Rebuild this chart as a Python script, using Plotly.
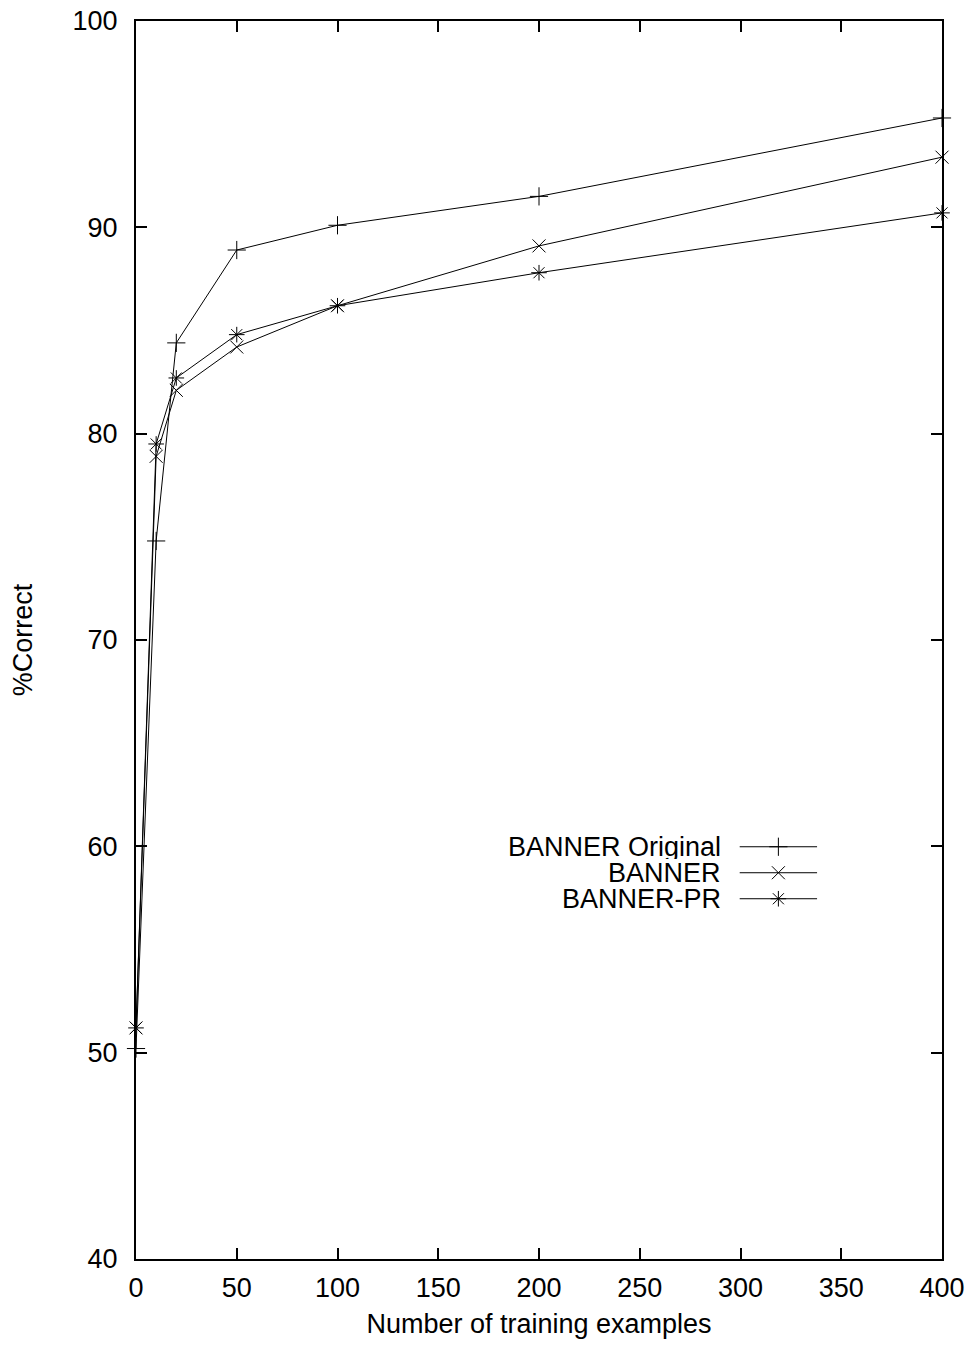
import plotly.graph_objects as go

# Data
train_sizes = [0, 10, 20, 50, 100, 200, 400]
banner_original = [50.2, 74.8, 84.4, 88.9, 90.1, 91.5, 95.3]
banner = [51.2, 78.9, 82.1, 84.2, 86.2, 89.1, 93.4]
banner_pr = [51.2, 79.5, 82.7, 84.8, 86.2, 87.8, 90.7]

series_names = ["BANNER Original", "BANNER", "BANNER-PR"]
series_values = [banner_original, banner, banner_pr]
symbols = ["cross-thin-open", "x-thin-open", "asterisk-open"]

x_ticks = [0, 50, 100, 150, 200, 250, 300, 350, 400]
y_ticks = [40, 50, 60, 70, 80, 90, 100]

FONT = "Liberation Sans, Arial, Helvetica, sans-serif"
FS = 27

fig = go.Figure()
for name, vals, sym in zip(series_names, series_values, symbols):
    fig.add_trace(go.Scatter(
        x=train_sizes, y=vals, mode="lines+markers", name=name,
        line=dict(color="black", width=1),
        marker=dict(symbol=sym, size=13, color="black",
                    line=dict(color="black", width=1)),
        showlegend=False, cliponaxis=False,
    ))

# gnuplot-style legend (text right aligned, sample on the right) on a hidden overlay axis
legend_rows = [0.333, 0.312, 0.291]
key_x0, key_x1, text_right = 0.749, 0.845, 0.728
for name, sym, ry in zip(series_names, symbols, legend_rows):
    fig.add_trace(go.Scatter(
        x=[key_x0, key_x1], y=[ry, ry], mode="lines",
        line=dict(color="black", width=1),
        xaxis="x2", yaxis="y2", showlegend=False, hoverinfo="skip",
    ))
    fig.add_trace(go.Scatter(
        x=[(key_x0 + key_x1) / 2], y=[ry], mode="markers",
        marker=dict(symbol=sym, size=13, color="black",
                    line=dict(color="black", width=1)),
        xaxis="x2", yaxis="y2", showlegend=False, hoverinfo="skip",
    ))
    fig.add_annotation(
        x=text_right, y=ry, xref="x2", yref="y2", text=name,
        showarrow=False, xanchor="right", yanchor="middle", height=24,
        font=dict(family=FONT, size=FS, color="black"),
    )

axis_common = dict(
    showgrid=False, zeroline=False, showline=True, linecolor="black",
    linewidth=2, mirror="allticks", ticks="inside", ticklen=11,
    tickwidth=1.5, tickcolor="black", ticklabeloverflow="allow",
    automargin=False,
    tickfont=dict(family=FONT, size=FS, color="black"),
)

fig.update_layout(
    width=969, height=1347,
    margin=dict(l=136, r=27, t=21, b=88, autoexpand=False),
    paper_bgcolor="white", plot_bgcolor="white",
    font=dict(family=FONT, size=FS, color="black"),
    xaxis=dict(range=[0, 400], tickvals=x_ticks, ticklabelstandoff=4,
               title=dict(text="Number of training examples",
                          font=dict(family=FONT, size=FS), standoff=12),
               **axis_common),
    yaxis=dict(range=[40, 100], tickvals=y_ticks, ticklabelstandoff=11,
               title=dict(text="%Correct", font=dict(family=FONT, size=FS),
                          standoff=32),
               **axis_common),
    xaxis2=dict(range=[0, 1], overlaying="x", visible=False, fixedrange=True),
    yaxis2=dict(range=[0, 1], overlaying="y", visible=False, fixedrange=True),
)

# remove the default 8px page margin so the figure fills the window exactly
fig.write_html(
    "out.html",
    config={"displayModeBar": False},
    post_script="document.body.style.margin='0';document.body.style.overflow='hidden';",
)
